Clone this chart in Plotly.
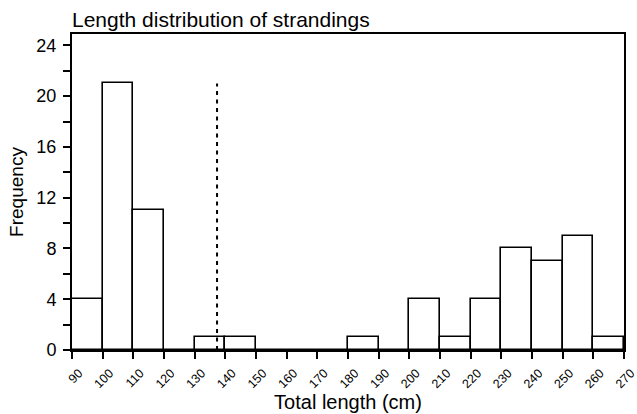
import plotly.graph_objects as go

bin_left = [90, 100, 110, 120, 130, 140, 150, 160, 170, 180, 190, 200, 210, 220, 230, 240, 250, 260]
counts = [4, 21, 11, 0, 1, 1, 0, 0, 0, 1, 0, 4, 1, 4, 8, 7, 9, 1]
bin_width = 10
threshold_len = 137.3
threshold_top = 21
x_ticks = list(range(90, 271, 10))
y_ticks = [0, 4, 8, 12, 16, 20, 24]

centers = [b + bin_width / 2 for b in bin_left]

fig = go.Figure()
fig.add_trace(go.Bar(
    x=centers, y=counts, width=bin_width,
    marker=dict(color="white", line=dict(color="black", width=1.6)),
    showlegend=False,
))
fig.add_shape(type="line", x0=threshold_len, x1=threshold_len, y0=0, y1=threshold_top,
              xref="x", yref="y", line=dict(color="black", width=2, dash="4px,4.5px"))

font = "Liberation Sans, Arial, sans-serif"
fig.update_layout(
    width=637, height=414,
    margin=dict(l=72, r=13, t=34, b=64, autoexpand=False),
    plot_bgcolor="white", paper_bgcolor="white",
    font=dict(family=font, color="black"),
    title=dict(text="Length distribution of strandings", x=72/637, xanchor="left",
               y=1 - 20/414, yanchor="middle", font=dict(size=21, color="black", family=font)),
    xaxis=dict(range=[90, 270], tickvals=x_ticks, ticktext=[str(v) for v in x_ticks],
               tickangle=-45, ticks="outside", ticklen=7, tickwidth=2, tickcolor="black",
               showline=True, linecolor="black", linewidth=2, mirror=True, automargin=False,
               showgrid=False, zeroline=False, tickfont=dict(size=12.5),
               ticklabelshift=7, ticklabelstandoff=2, ticklabeloverflow="allow",
               title=dict(text="Total length (cm)", font=dict(size=20), standoff=4)),
    yaxis=dict(range=[0, 24.9], tickvals=y_ticks, ticks="outside", ticklen=7, tickwidth=2,
               tickcolor="black", showline=True, linecolor="black", linewidth=2, mirror=True,
               automargin=False, ticklabelstandoff=3,
               showgrid=False, zeroline=True, zerolinecolor="black", zerolinewidth=3,
               tickfont=dict(size=18),
               minor=dict(dtick=2, tick0=0, ticks="outside", ticklen=7, tickwidth=2, tickcolor="black"),
               title=dict(text="Frequency", font=dict(size=19), standoff=8)),
    bargap=0,
)
fig.write_html("out.html")
